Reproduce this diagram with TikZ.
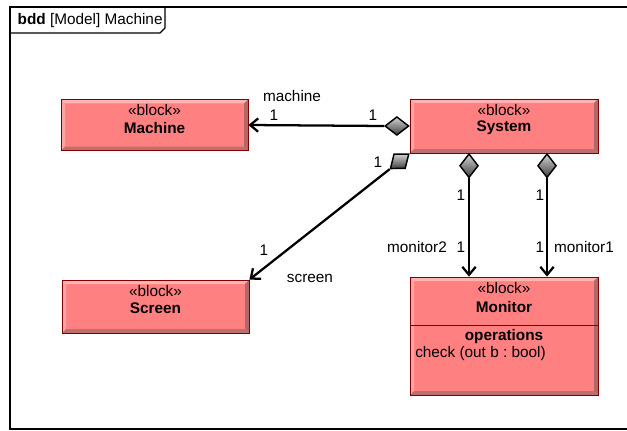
\documentclass[tikz,border=0pt]{standalone}
\usepackage{fontspec}
\setmainfont{Liberation Sans}
\usetikzlibrary{arrows.meta,shapes.geometric,positioning}
\definecolor{blockfill}{RGB}{255,128,128}
\definecolor{blockline}{RGB}{128,0,0}
\definecolor{blocklight}{RGB}{255,178,178}
\definecolor{blockdark}{RGB}{175,105,105}
\frenchspacing
\tikzset{
  block/.style={draw=blockline, fill=blockfill, inner sep=0pt, line width=0.6pt,
    path picture={
      \coordinate (nw) at (path picture bounding box.north west);
      \coordinate (ne) at (path picture bounding box.north east);
      \coordinate (sw) at (path picture bounding box.south west);
      \coordinate (se) at (path picture bounding box.south east);
      \fill[blocklight] (nw) -- (ne) -- ([xshift=-3pt,yshift=-3pt]ne) -- ([xshift=3pt,yshift=-3pt]nw) -- cycle;
      \fill[blocklight!70!blockfill] (nw) -- (sw) -- ([xshift=3pt,yshift=3pt]sw) -- ([xshift=3pt,yshift=-3pt]nw) -- cycle;
      \fill[blockdark] (ne) -- (se) -- ([xshift=-3pt,yshift=3pt]se) -- ([xshift=-3pt,yshift=-3pt]ne) -- cycle;
      \fill[blockdark!80!blockfill] (sw) -- (se) -- ([xshift=-3pt,yshift=3pt]se) -- ([xshift=3pt,yshift=3pt]sw) -- cycle;
    }},
  agg/.style={diamond, draw=black, line width=1.1pt, minimum width=18pt, minimum height=14pt,
    inner sep=0pt, top color=gray!35, bottom color=black!75},
  assoc/.style={line width=1.7pt, -{Straight Barb[length=6pt,width=10pt]}},
  mult/.style={inner sep=1pt},
  bname/.style={font=\fontsize{11.5}{13.5}\selectfont\bfseries}
}

\begin{document}
\begin{tikzpicture}[x=0.75pt, y=-0.75pt, font=\fontsize{11.5}{13.5}\selectfont]
  \useasboundingbox (0,0) rectangle (627,431);
  % Frame
  \draw[line width=1.2pt] (10,7) rectangle (640,429);
  \draw[line width=0.8pt] (10,33) -- (160,33) -- (165,28) -- (165,7);
  \node[anchor=west] (title) at (13,21) {\textbf{bdd} [Model] Machine};

  %Define nodes
  \node[block, minimum width=140.25pt, minimum height=38.25pt] (machine) at (154.5,125) {};
  \node[block, minimum width=141pt, minimum height=40.5pt]     (system)  at (504,126) {};
  \node[block, minimum width=140.25pt, minimum height=39.75pt] (screen)  at (155.5,306.5) {};
  \node[block, minimum width=141pt, minimum height=88.5pt]     (monitor) at (504,336) {};
  \draw[blockline, line width=0.6pt] (monitor.west |- 0,325) -- (monitor.east |- 0,325);

  % Block texts
  \node (machine_st) at ([yshift=-8.25pt]machine.north) {«block»};
  \node[bname] (machine_nm) at ([yshift=-21.75pt]machine.north) {Machine};
  \node (system_st) at ([yshift=-8.25pt]system.north) {«block»};
  \node[bname] (system_nm) at ([yshift=-21.75pt]system.north) {System};
  \node (screen_st) at ([yshift=-8.25pt]screen.north) {«block»};
  \node[bname] (screen_nm) at ([yshift=-21.75pt]screen.north) {Screen};
  \node (monitor_st) at ([yshift=-8.25pt]monitor.north) {«block»};
  \node[bname] (monitor_nm) at ([yshift=-22.5pt]monitor.north) {Monitor};
  \node[bname] (monitor_op) at (504,337) {operations};
  \node[anchor=west, inner sep=0pt] (monitor_chk) at (415,354) {check (out b : bool)};

  % Aggregation ends
  \node[agg, anchor=east]                (d_machine) at (system.west) {};
  \node[agg, rotate=38.3, anchor=east]   (d_screen)  at (system.south west) {};
  \node[agg, rotate=90, anchor=east]     (d_mon2)    at (469,153) {};
  \node[agg, rotate=90, anchor=east]     (d_mon1)    at (547,153) {};

  % Connect the nodes
  \draw[assoc] (d_machine.west) -- (machine.east);
  \draw[assoc] (d_screen.west) -- (screen.north east);
  \draw[assoc] (d_mon2.west) -- (d_mon2.west |- monitor.north);
  \draw[assoc] (d_mon1.west) -- (d_mon1.west |- monitor.north);

  % Role names and multiplicities
  \node (r_machine) at (292,96) {machine};
  \node[mult] (m_machine_a) at (274,115) {1};
  \node[mult] (m_machine_b) at (373,115) {1};
  \node[mult] (m_screen_a) at (378,162) {1};
  \node[mult] (m_screen_b) at (264,250) {1};
  \node (r_screen) at (310,278) {screen};
  \node[mult] (m_mon2_a) at (461,195) {1};
  \node[mult] (m_mon2_b) at (461,247) {1};
  \node (r_mon2) at (417,247) {monitor2};
  \node[mult] (m_mon1_a) at (540,195) {1};
  \node[mult] (m_mon1_b) at (540,247) {1};
  \node (r_mon1) at (584,247) {monitor1};
\end{tikzpicture}
\end{document}
